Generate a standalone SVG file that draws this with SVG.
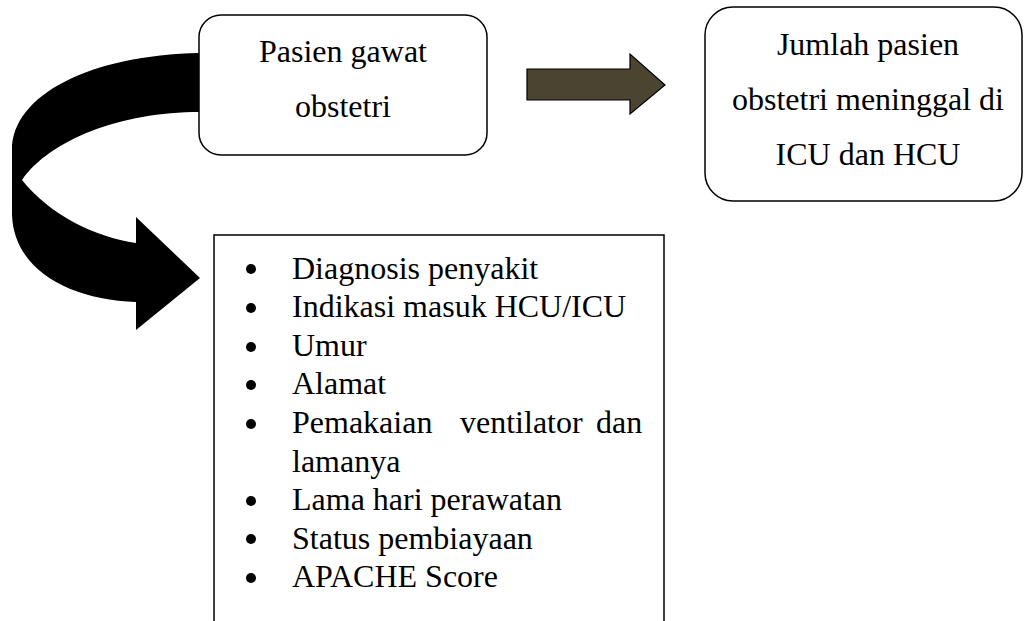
<svg xmlns="http://www.w3.org/2000/svg" width="1028" height="621" viewBox="0 0 1028 621">
<style>
  .t { font-family: "Liberation Serif", "Times New Roman", serif; font-size: 32px; fill: #000; }
  .c { text-anchor: middle; }
  .box { fill: #fff; stroke: #000; stroke-width: 1.5; }
</style>
<rect x="0" y="0" width="1028" height="621" fill="#fff"/>
<g id="connectors">
  <path id="curved-arrow" d="M 205,53 L 200,53 C 90,55 12,95 12,150 L 12,215 C 14,270 70,300 136,302 L 136,330 L 200,278 L 136,217 L 136,243 C 95,237 50,215 22,180 C 50,140 120,112 200,112 L 205,112 Z" fill="#000"/>
  <path id="straight-arrow" d="M 527,69 L 630,69 L 630,54 L 665,85 L 630,114 L 630,100 L 527,100 Z" fill="#4a4430" stroke="#000" stroke-width="1.2" stroke-linejoin="miter"/>
</g>
<g id="node-pasien">
  <rect class="box" x="199" y="15" width="288" height="140" rx="22" ry="22"/>
  <text class="t c" x="343" y="62">Pasien gawat</text>
  <text class="t c" x="343" y="117">obstetri</text>
</g>
<g id="node-jumlah">
  <rect class="box" x="705" y="7" width="317" height="194" rx="28" ry="28"/>
  <text class="t c" x="868" y="55">Jumlah pasien</text>
  <text class="t c" x="868" y="110">obstetri meninggal di</text>
  <text class="t c" x="868" y="165">ICU dan HCU</text>
</g>
<g id="node-list">
  <rect x="214" y="235" width="450" height="400" fill="#fff" stroke="#000" stroke-width="1.5"/>
  <g fill="#000">
    <circle cx="251" cy="269" r="5"/>
    <circle cx="251" cy="308" r="5"/>
    <circle cx="251" cy="347" r="5"/>
    <circle cx="251" cy="385" r="5"/>
    <circle cx="251" cy="424" r="5"/>
    <circle cx="251" cy="501" r="5"/>
    <circle cx="251" cy="539" r="5"/>
    <circle cx="251" cy="578" r="5"/>
  </g>
  <text class="t" x="292" y="278.5">Diagnosis penyakit</text>
  <text class="t" x="292" y="317">Indikasi masuk HCU/ICU</text>
  <text class="t" x="292" y="356">Umur</text>
  <text class="t" x="292" y="394">Alamat</text>
  <text class="t" y="433"><tspan x="292">Pemakaian</tspan><tspan x="460">ventilator</tspan><tspan x="596">dan</tspan></text>
  <text class="t" x="292" y="471.5">lamanya</text>
  <text class="t" x="292" y="510">Lama hari perawatan</text>
  <text class="t" x="292" y="548.5">Status pembiayaan</text>
  <text class="t" x="292" y="587">APACHE Score</text>
</g>
</svg>
